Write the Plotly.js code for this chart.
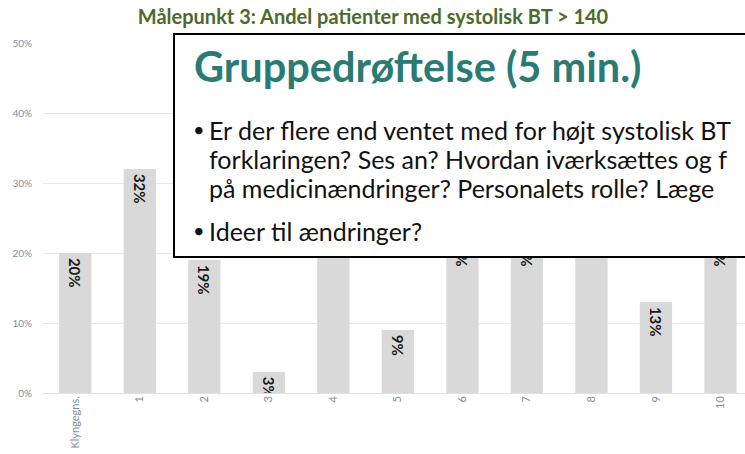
<!DOCTYPE html>
<html>
<head>
<meta charset="utf-8">
<script src="https://cdn.plot.ly/plotly-3.0.1.min.js"></script>
<style>html,body{margin:0;padding:0;background:#fff;}#chart{width:745px;height:454px;}</style>
</head>
<body>
<div id="chart"></div>
<script>
// Data (some bars partly hidden behind the overlay box; estimated)
const categories = ["Klyngegns.", "1", "2", "3", "4", "5", "6", "7", "8", "9", "10"];
const shareHighBP = [0.20, 0.32, 0.19, 0.03, 0.27, 0.09, 0.23, 0.23, 0.28, 0.13, 0.23];
const yTickValues = [0, 0.1, 0.2, 0.3, 0.4, 0.5];
const yTickLabels = ["0%", "10%", "20%", "30%", "40%", "50%"];

const chartTitle = "Målepunkt 3: Andel patienter med systolisk BT > 140";
const boxHeading = "Gruppedrøftelse (5 min.)";
// visible part of the overlay text (the slide is cropped at the right edge)
const bullet1Lines = [
  "Er der flere end ventet med for højt systolisk BT",
  "forklaringen? Ses an? Hvordan iværksættes og f",
  "på medicinændringer? Personalets rolle? Læge"
];
const bullet2 = "Ideer til ændringer?";

// pixel -> paper helpers for the overlay (plot area: x 43..745, y 43..393)
const L = 43, W = 702, T = 43, H = 350;
const px = x => (x - L) / W;
const py = y => (T + H - y) / H;

const trace = {
  type: "bar",
  x: categories,
  y: shareHighBP,
  marker: {color: "#d9d9d9"},
  texttemplate: "\u2009%{y:.0%}",
  textposition: "inside",
  insidetextanchor: "end",
  textangle: 90,
  constraintext: "none",
  textfont: {family: "Lato, 'Open Sans', sans-serif", size: 15, color: "#1a1a1a", weight: 700},
  hoverinfo: "skip"
};

const annFont = "Lato, 'Open Sans', sans-serif";
const txtSize = 25;
const lineYs = [130, 159, 188];
const annotations = [
  {xref: "paper", yref: "paper", x: px(192), y: py(66), xanchor: "left", yanchor: "middle",
   text: "<b>" + boxHeading + "</b>", showarrow: false,
   font: {family: annFont, size: 41.5, color: "#2a7b73"}},
  {xref: "paper", yref: "paper", x: px(191), y: py(129), xanchor: "left", yanchor: "middle",
   text: "•", showarrow: false, font: {family: annFont, size: 20, color: "#111"}},
  {xref: "paper", yref: "paper", x: px(191), y: py(230), xanchor: "left", yanchor: "middle",
   text: "•", showarrow: false, font: {family: annFont, size: 20, color: "#111"}},
  {xref: "paper", yref: "paper", x: px(207), y: py(231), xanchor: "left", yanchor: "middle",
   text: bullet2, showarrow: false, font: {family: annFont, size: txtSize, color: "#111"}}
];
bullet1Lines.forEach((line, i) => {
  annotations.push({xref: "paper", yref: "paper", x: px(207), y: py(lineYs[i]),
    xanchor: "left", yanchor: "middle", align: "left", text: line, showarrow: false,
    font: {family: annFont, size: txtSize, color: "#111"}});
});

const layout = {
  width: 745, height: 454,
  margin: {l: L, r: 0, t: T, b: 454 - T - H, pad: 0},
  paper_bgcolor: "#fff", plot_bgcolor: "#fff",
  showlegend: false,
  bargap: 0.5,
  title: {
    text: "<b>" + chartTitle + "</b>",
    x: 373 / 745, xanchor: "center", y: 1 - 17 / 454, yanchor: "middle",
    font: {family: "Lato, 'Open Sans', sans-serif", size: 20, color: "#4a6b2a"}
  },
  xaxis: {
    type: "category",
    range: [-0.5, 10.38],
    tickangle: -90,
    tickfont: {family: "Lato, 'Open Sans', sans-serif", size: 11, color: "#7f8ea6"},
    showgrid: false, zeroline: false, showline: false, ticks: ""
  },
  yaxis: {
    range: [0, 0.5],
    tickvals: yTickValues, ticktext: yTickLabels,
    tickfont: {family: "Lato, 'Open Sans', sans-serif", size: 10, color: "#7f8ea6"},
    gridcolor: "#e4e8ef", gridwidth: 1, zeroline: true, zerolinecolor: "#dde2ea", zerolinewidth: 1,
    showline: false, ticks: "", ticklabelstandoff: 10
  },
  shapes: [
    {type: "rect", xref: "paper", yref: "paper", x0: px(174), x1: px(760), y0: py(257), y1: py(34),
     fillcolor: "#ffffff", line: {color: "#000", width: 2}, layer: "above"}
  ],
  annotations: annotations
};

Plotly.newPlot("chart", [trace], layout, {displayModeBar: false, staticPlot: true});
</script>
</body>
</html>
